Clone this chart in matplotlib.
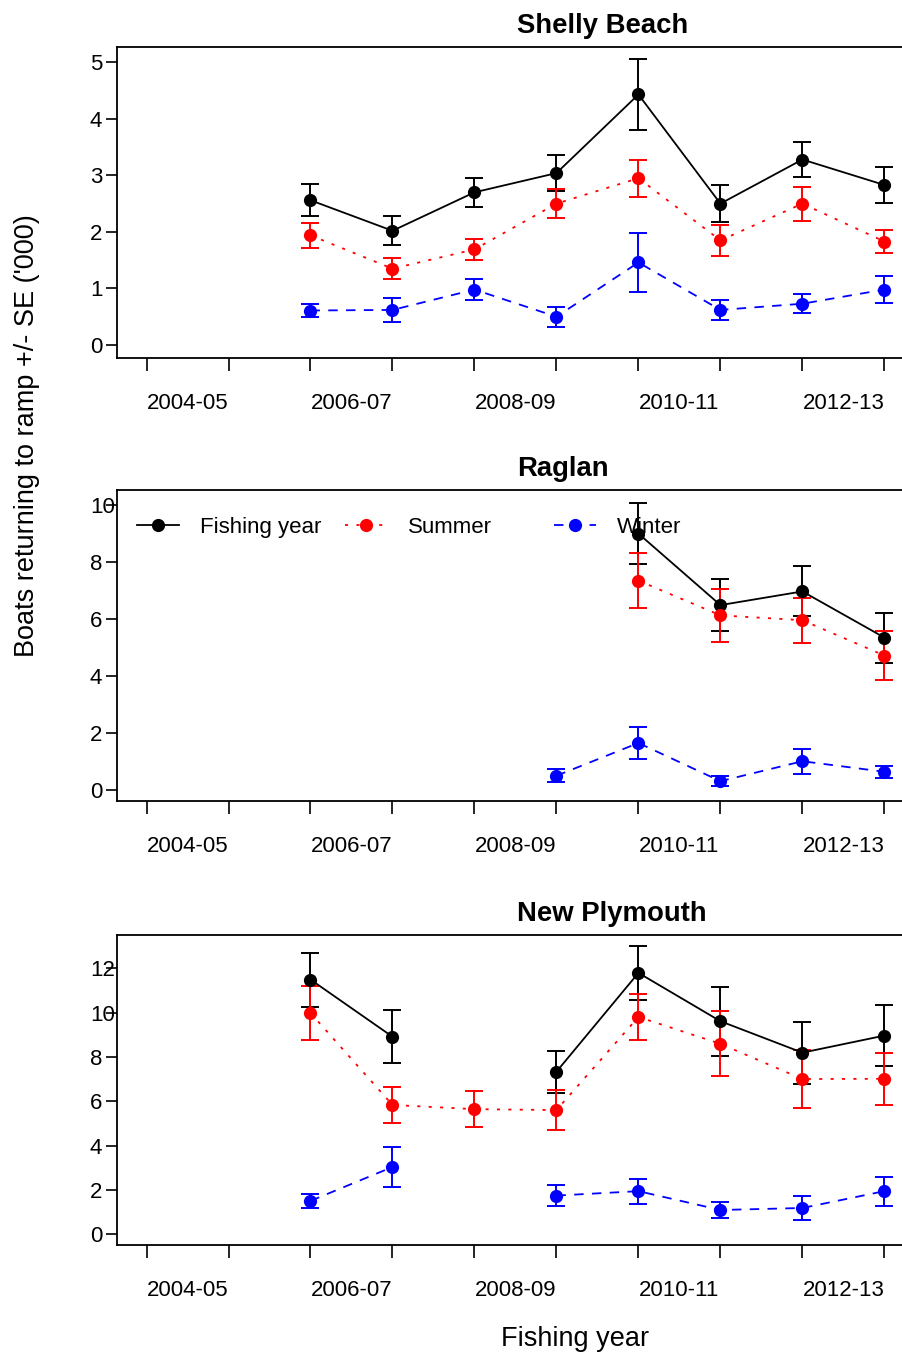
import numpy as np
import matplotlib
matplotlib.use("Agg")
import matplotlib.pyplot as plt
from matplotlib.legend import Legend

plt.rcParams["font.family"] = ["Liberation Sans", "DejaVu Sans"]
plt.rcParams["lines.scale_dashes"] = False

nan = np.nan

# Fishing years (plotted at the start of each year) and axis labelling
years = [2006, 2007, 2008, 2009, 2010, 2011, 2012, 2013]
tick_years = list(range(2004, 2014))
season_pos = [2004.5, 2006.5, 2008.5, 2010.5, 2012.5]
season_labels = ["2004-05", "2006-07", "2008-09", "2010-11", "2012-13"]

# Shelly Beach: boats returning ('000) and standard errors
shelly_fy = [2.56, 2.02, 2.70, 3.04, 4.43, 2.50, 3.28, 2.83]
shelly_fy_se = [0.28, 0.26, 0.26, 0.32, 0.62, 0.33, 0.31, 0.31]
shelly_su = [1.94, 1.35, 1.69, 2.50, 2.95, 1.85, 2.50, 1.83]
shelly_su_se = [0.22, 0.18, 0.18, 0.26, 0.33, 0.28, 0.30, 0.21]
shelly_wi = [0.61, 0.62, 0.98, 0.50, 1.46, 0.62, 0.73, 0.98]
shelly_wi_se = [0.12, 0.21, 0.18, 0.18, 0.52, 0.18, 0.17, 0.24]

# Raglan
raglan_fy = [nan, nan, nan, nan, 9.00, 6.49, 6.97, 5.35]
raglan_fy_se = [nan, nan, nan, nan, 1.06, 0.92, 0.88, 0.88]
raglan_su = [nan, nan, nan, nan, 7.35, 6.13, 5.96, 4.72]
raglan_su_se = [nan, nan, nan, nan, 0.96, 0.93, 0.79, 0.85]
raglan_wi = [nan, nan, nan, 0.50, 1.65, 0.31, 1.01, 0.64]
raglan_wi_se = [nan, nan, nan, 0.22, 0.55, 0.18, 0.44, 0.22]

# New Plymouth
newply_fy = [11.50, 8.92, nan, 7.34, 11.80, 9.62, 8.20, 8.97]
newply_fy_se = [1.22, 1.19, nan, 0.95, 1.23, 1.56, 1.40, 1.37]
newply_su = [9.99, 5.84, 5.65, 5.61, 9.81, 8.60, 7.01, 7.02]
newply_su_se = [1.23, 0.80, 0.80, 0.90, 1.04, 1.47, 1.29, 1.17]
newply_wi = [1.51, 3.04, nan, 1.75, 1.95, 1.10, 1.19, 1.95]
newply_wi_se = [0.33, 0.89, nan, 0.46, 0.56, 0.36, 0.56, 0.66]

series_names = ["Fishing year", "Summer", "Winter"]
series_colors = ["black", "red", "blue"]
series_styles = ["-", (0, (2.2, 6.0)), (0, (6.8, 6.0))]

W, H = 902, 1353
fig = plt.figure(figsize=(W / 100, H / 100), dpi=100)

# (title, top px, bottom px, ylim, yticks, data)
panels = [
    ("Shelly Beach", 47, 358, (-0.23, 5.27), [0, 1, 2, 3, 4, 5],
     [(shelly_fy, shelly_fy_se), (shelly_su, shelly_su_se), (shelly_wi, shelly_wi_se)]),
    ("Raglan", 490, 801, (-0.386, 10.53), [0, 2, 4, 6, 8, 10],
     [(raglan_fy, raglan_fy_se), (raglan_su, raglan_su_se), (raglan_wi, raglan_wi_se)]),
    ("New Plymouth", 935, 1245, (-0.48, 13.51), [0, 2, 4, 6, 8, 10, 12],
     [(newply_fy, newply_fy_se), (newply_su, newply_su_se), (newply_wi, newply_wi_se)]),
]

left_px, right_px = 117, 1091
for title, top, bottom, ylim, yticks, data in panels:
    ax = fig.add_axes([left_px / W, 1 - bottom / H, (right_px - left_px) / W, (bottom - top) / H])
    ax.set_xlim(2003.64, 2015.52)
    ax.set_ylim(*ylim)

    handles = []
    for (vals, se), name, col, ls in zip(data, series_names, series_colors, series_styles):
        ax.errorbar(years, vals, yerr=se, fmt="none", ecolor=col, elinewidth=1.4,
                    capsize=6.5, capthick=1.4, zorder=3)
        line, = ax.plot(years, vals, color=col, linestyle=ls, linewidth=1.3,
                        marker="o", markersize=9.5, markeredgewidth=0, zorder=4, label=name)
        handles.append(line)

    for side in ("left", "top", "bottom"):
        ax.spines[side].set_linewidth(1.3)
    ax.spines["right"].set_visible(False)

    ax.set_xticks(tick_years)
    ax.set_xticklabels([])
    ax.set_xticks(season_pos, minor=True)
    ax.set_xticklabels(season_labels, minor=True, fontsize=16)
    ax.tick_params(axis="x", which="major", direction="out", length=9.5, width=1.2)
    ax.tick_params(axis="x", which="minor", length=0, pad=25.5)

    ax.set_yticks(yticks)
    ax.set_yticklabels([str(t) for t in yticks], fontsize=16)
    ax.tick_params(axis="y", direction="out", length=8, width=1.2, pad=11.5)
    plt.setp(ax.get_yticklabels(), ha="left")

    fig.text(517 / W, 1 - (top - 14) / H, title, fontsize=19.8, fontweight="bold",
             ha="left", va="baseline")

    if title == "Raglan":
        for h, xa in zip(handles, [0.0205, 0.234, 0.4487]):
            leg = Legend(ax, [h], [h.get_label()], loc="center left",
                         bbox_to_anchor=(xa, 0.881), bbox_transform=ax.transAxes,
                         frameon=False, fontsize=16, borderpad=0, borderaxespad=0,
                         handlelength=1.89, handletextpad=0.95, numpoints=1)
            leg.set_zorder(1)
            ax.add_artist(leg)

fig.text(27 / W, 1 - 436 / H, "Boats returning to ramp +/- SE ('000)", rotation=90,
         fontsize=19.5, ha="center", va="center")
fig.text(575 / W, 1 - 1346 / H, "Fishing year", fontsize=19.5, ha="center", va="baseline")

fig.savefig("out.png", dpi=100)
